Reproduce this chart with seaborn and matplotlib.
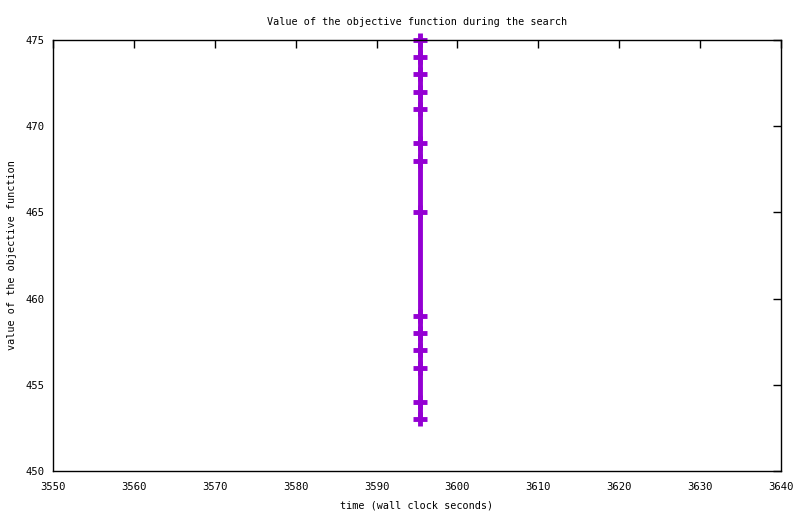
import pandas as pd
import seaborn as sns
import matplotlib.pyplot as plt

# search trace values
wall_time = [3595.4] * 14
objective = [453, 454, 456, 457, 458, 459, 465, 468, 469, 471, 472, 473, 474, 475]

x_ticks = [3550, 3560, 3570, 3580, 3590, 3600, 3610, 3620, 3630, 3640]
y_ticks = [450, 455, 460, 465, 470, 475]

trace = pd.DataFrame({'time': wall_time, 'value': objective})

sns.set_style('white')
plt.rcParams['font.family'] = ['DejaVu Sans Mono']
plt.rcParams['font.size'] = 7.3
plt.rcParams['text.color'] = 'black'
plt.rcParams['axes.labelcolor'] = 'black'

fig = plt.figure(figsize=(8, 5.14), dpi=100)
ax = fig.add_axes([53 / 800, 1 - 471 / 514, 728 / 800, 431 / 514])

# line plus gnuplot-like "+" points
sns.lineplot(data=trace, x='time', y='value', ax=ax, color='#9400d3',
             linewidth=3.5, marker='+', markersize=10, markeredgewidth=3.5,
             markeredgecolor='#9400d3', estimator=None, sort=False, clip_on=False)

ax.set_xlim(3550, 3640)
ax.set_ylim(450, 475)
ax.set_xticks(x_ticks)
ax.set_yticks(y_ticks)
ax.tick_params(direction='in', length=6, width=1, top=True, right=True, colors='black',
               labelsize=7.6)
ax.tick_params(axis='x', pad=8)
ax.tick_params(axis='y', pad=6)
for side in ax.spines.values():
    side.set_color('black')
    side.set_linewidth(1)

ax.set_title('Value of the objective function during the search', pad=11, fontsize=7.3)
ax.set_xlabel('time (wall clock seconds)', labelpad=6)
ax.set_ylabel('value of the objective function', labelpad=6.5)

fig.savefig('out.png', dpi=100)
